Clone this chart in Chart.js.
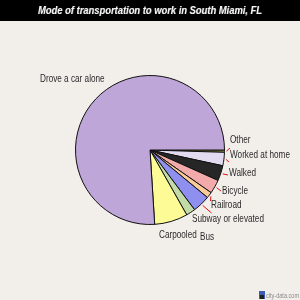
<!DOCTYPE html>
<html>
<head>
<meta charset="utf-8">
<script src="https://cdn.jsdelivr.net/npm/chart.js@4"></script>
<style>
  html, body { margin: 0; padding: 0; background: #f2efeb; }
  #wrap { width: 300px; height: 300px; }
</style>
</head>
<body>
<div id="wrap"><canvas id="pieChart" width="300" height="300"></canvas></div>
<script>
const categories = ["Other", "Worked at home", "Walked", "Bicycle", "Railroad",
  "Subway or elevated", "Bus", "Carpooled", "Drove a car alone"];
const shares = [0.5, 2.9, 3.3, 3.0, 1.3, 3.8, 2.0, 7.2, 76.0];
const sliceColors = ["#a39b45", "#e2daf0", "#262626", "#f2aaaa", "#fccb9c",
  "#8f8fef", "#c3dba7", "#fdfb95", "#bea7d8"];

// where each label's text sits, and where its red leader ends (null = no leader)
const labelLayout = [
  { x: 230, y: 140, lx: 230, ly: 148 },
  { x: 230, y: 155, lx: 229, ly: 162 },
  { x: 229, y: 173, lx: 228, ly: 175 },
  { x: 222, y: 191, lx: 221, ly: 191 },
  { x: 211, y: 205, lx: 210.5, ly: 201 },
  { x: 192, y: 219, lx: 211.5, ly: 213 },
  { x: 200, y: 237, lx: null },
  { x: 159, y: 235, lx: null },
  { x: 40, y: 79, lx: null }
];

function squeezedText(ctx, text, x, y, sx) {
  ctx.save();
  ctx.translate(x, y);
  ctx.scale(sx, 1);
  ctx.fillText(text, 0, 0);
  ctx.restore();
}

const decorations = {
  id: "decorations",
  beforeDraw(chart) {
    const ctx = chart.ctx;
    ctx.save();
    ctx.fillStyle = "#f2efeb";
    ctx.fillRect(0, 0, chart.width, chart.height);
    ctx.fillStyle = "#000";
    ctx.fillRect(0, 0, chart.width, 21);

    // title, stretched to the reference width
    const title = "Mode of transportation to work in South Miami, FL";
    ctx.font = "italic bold 11px 'Liberation Sans', Arial, sans-serif";
    ctx.textBaseline = "middle";
    ctx.textAlign = "left";
    const w = ctx.measureText(title).width;
    const sx = 224 / w;
    ctx.fillStyle = "#555";
    squeezedText(ctx, title, 38.6, 11.2, sx);
    ctx.fillStyle = "#f4f4f4";
    squeezedText(ctx, title, 38, 10.6, sx);
    ctx.restore();
  },
  afterDraw(chart) {
    const ctx = chart.ctx;
    const arcs = chart.getDatasetMeta(0).data;
    ctx.save();
    ctx.font = "10.5px 'Liberation Sans', Arial, sans-serif";
    ctx.textBaseline = "middle";
    ctx.textAlign = "left";
    arcs.forEach((arc, i) => {
      const pos = labelLayout[i];
      if (pos.lx !== null) {
        const mid = (arc.startAngle + arc.endAngle) / 2;
        const r = arc.outerRadius + 2;
        ctx.strokeStyle = "#e41010";
        ctx.lineWidth = 1;
        ctx.beginPath();
        ctx.moveTo(arc.x + Math.cos(mid) * r, arc.y + Math.sin(mid) * r);
        ctx.lineTo(pos.lx, pos.ly);
        ctx.stroke();
      }
      ctx.fillStyle = "#2a2a2a";
      squeezedText(ctx, categories[i], pos.x, pos.y, 0.78);
    });

    // watermark
    ctx.fillStyle = "#3a5fb0";
    ctx.fillRect(259, 291, 6, 8);
    ctx.fillStyle = "#222";
    ctx.fillRect(260, 295, 4, 4);
    ctx.font = "7px 'Liberation Sans', Arial, sans-serif";
    ctx.fillStyle = "#8a8a8a";
    const wm = "city-data.com";
    squeezedText(ctx, wm, 266, 296, 33 / ctx.measureText(wm).width);
    ctx.restore();
  }
};

new Chart(document.getElementById("pieChart"), {
  type: "pie",
  data: {
    labels: categories,
    datasets: [{
      data: shares,
      backgroundColor: sliceColors,
      borderColor: "#111",
      borderWidth: 1
    }]
  },
  options: {
    responsive: false,
    animation: false,
    rotation: 90,
    layout: { padding: { left: 75, right: 75, top: 75, bottom: 75 } },
    plugins: {
      legend: { display: false },
      title: { display: false },
      tooltip: { enabled: false }
    }
  },
  plugins: [decorations]
});
</script>
</body>
</html>
